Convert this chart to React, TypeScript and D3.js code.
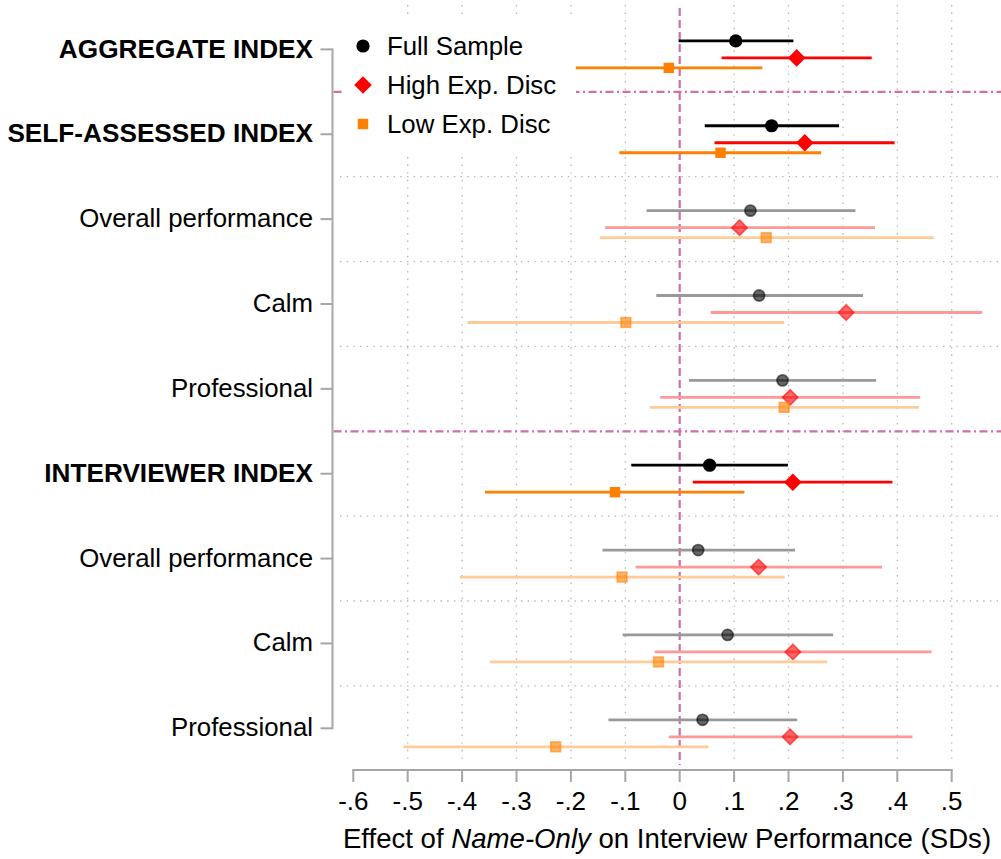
import React from "react";
import * as d3 from "d3";

// Row labels, top to bottom; index rows are bold and drawn with solid markers
const rowLabels = [
  "AGGREGATE INDEX",
  "SELF-ASSESSED INDEX",
  "Overall performance",
  "Calm",
  "Professional",
  "INTERVIEWER INDEX",
  "Overall performance",
  "Calm",
  "Professional",
];
const isIndexRow = [true, true, false, false, false, true, false, false, false];

// Full sample estimates and 95% CIs
const fullEst = [0.103, 0.169, 0.130, 0.146, 0.189, 0.055, 0.034, 0.088, 0.042];
const fullLo = [-0.002, 0.046, -0.061, -0.043, 0.017, -0.089, -0.142, -0.105, -0.131];
const fullHi = [0.209, 0.293, 0.323, 0.337, 0.361, 0.199, 0.212, 0.282, 0.216];

// High expected discrimination subsample
const highEst = [0.215, 0.230, 0.110, 0.306, 0.203, 0.208, 0.145, 0.208, 0.203];
const highLo = [0.077, 0.064, -0.137, 0.057, -0.036, 0.024, -0.081, -0.046, -0.020];
const highHi = [0.353, 0.395, 0.359, 0.556, 0.442, 0.391, 0.372, 0.463, 0.428];

// Low expected discrimination subsample
const lowEst = [-0.020, 0.075, 0.159, -0.099, 0.192, -0.119, -0.106, -0.039, -0.228];
const lowLo = [-0.191, -0.111, -0.147, -0.390, -0.055, -0.358, -0.404, -0.349, -0.508];
const lowHi = [0.152, 0.260, 0.467, 0.192, 0.440, 0.119, 0.193, 0.271, 0.053];

const xTicks = [-0.6, -0.5, -0.4, -0.3, -0.2, -0.1, 0, 0.1, 0.2, 0.3, 0.4, 0.5];
const xGrid = [-0.5, -0.4, -0.3, -0.2, -0.1, 0.1, 0.2, 0.3, 0.4, 0.5];
const legendLabels = ["Full Sample", "High Exp. Disc", "Low Exp. Disc"];

const W = 1001;
const H = 859;
const FONT = "'Liberation Sans', Arial, sans-serif";
const PINK = "#CF6FA4";
const GRID = "#B5B5B5";
const AXIS = "#A6A6A6";

// Stata-style tick labels: "-.6", ".1", "0"
const fmtTick = (v: number) => {
  if (Math.abs(v) < 1e-9) return "0";
  const s = Math.abs(v).toFixed(1).replace(/^0/, "");
  return (v < 0 ? "-" : "") + s;
};

type Series = {
  est: number[];
  lo: number[];
  hi: number[];
  color: string;
  fadedLine: string;
  shape: "circle" | "diamond" | "square";
  offset: number;
};

const series: Series[] = [
  { est: fullEst, lo: fullLo, hi: fullHi, color: "#000000", fadedLine: "#999999", shape: "circle", offset: -8.5 },
  { est: highEst, lo: highLo, hi: highHi, color: "#FF0000", fadedLine: "#FF9999", shape: "diamond", offset: 8.5 },
  { est: lowEst, lo: lowLo, hi: lowHi, color: "#FF7F00", fadedLine: "#FFCC99", shape: "square", offset: 18.5 },
];

function Marker({ shape, cx, cy, color, faded }: { shape: string; cx: number; cy: number; color: string; faded: boolean }) {
  const op = faded ? 0.6 : 1;
  const common = {
    fill: color,
    fillOpacity: op,
    stroke: color,
    strokeOpacity: faded ? 0.55 : 0,
    strokeWidth: faded ? 1.6 : 0,
  };
  if (shape === "circle") {
    const r = faded ? 5.6 : 6.6;
    return <circle cx={cx} cy={cy} r={r} {...common} />;
  }
  if (shape === "diamond") {
    const d = faded ? 7.8 : 8.8;
    return <path d={`M${cx},${cy - d}L${cx + d},${cy}L${cx},${cy + d}L${cx - d},${cy}Z`} {...common} />;
  }
  const s = faded ? 9.8 : 10.4;
  return <rect x={cx - s / 2} y={cy - s / 2} width={s} height={s} {...common} />;
}

export default function App() {
  const x = d3.scaleLinear().domain([-0.6, 0.5]).range([353.3, 951.7]);
  const y = d3.scaleLinear().domain([0, rowLabels.length - 1]).range([49.4, 728.3]);
  const step = y(1) - y(0);

  const plotTop = 5;
  const plotBottom = 763;
  const axisY = 770;
  const yAxisX = 332.5;

  // separators between rows; pink dash-dot between sections
  const separators = d3.range(rowLabels.length - 1).map((i) => ({
    yPos: y(i) + step / 2,
    section: i === 0 || i === 4,
  }));

  const legendX = 363;
  const legendY = [46, 85, 124];

  return (
    <svg
      width={W}
      height={H}
      style={{ position: "absolute", left: 0, top: 0, background: "#fff", fontFamily: FONT }}
    >
      <rect x={0} y={0} width={W} height={H} fill="#fff" />

      {/* vertical dotted grid */}
      {xGrid.map((t) => (
        <line
          key={`vg${t}`}
          x1={x(t)}
          x2={x(t)}
          y1={plotTop}
          y2={plotBottom}
          stroke={GRID}
          strokeWidth={1.3}
          strokeDasharray="1.4 6.2"
        />
      ))}

      {/* horizontal separators */}
      {separators.map((s, i) =>
        s.section ? (
          <line
            key={`hs${i}`}
            x1={yAxisX + 1}
            x2={W}
            y1={s.yPos}
            y2={s.yPos}
            stroke={PINK}
            strokeWidth={2.2}
            strokeDasharray="8 3.5 2 3.5"
          />
        ) : (
          <line
            key={`hs${i}`}
            x1={340}
            x2={W}
            y1={s.yPos}
            y2={s.yPos}
            stroke={GRID}
            strokeWidth={1.3}
            strokeDasharray="1.4 5.3"
          />
        )
      )}

      {/* reference line at zero */}
      <line
        x1={x(0)}
        x2={x(0)}
        y1={plotTop + 3}
        y2={plotBottom + 2}
        stroke={PINK}
        strokeWidth={2.2}
        strokeDasharray="8 4"
      />

      {/* legend box */}
      <rect x={342} y={18} width={234} height={134} fill="#fff" />
      {legendLabels.map((lab, i) => (
        <g key={lab}>
          <Marker shape={series[i].shape} cx={legendX} cy={legendY[i]} color={series[i].color} faded={false} />
          <text x={387} y={legendY[i]} dy="0.35em" fontSize={25.8} fill="#000">
            {lab}
          </text>
        </g>
      ))}

      {/* confidence intervals and point estimates */}
      {rowLabels.map((_, r) =>
        series.map((s, k) => {
          const yy = y(r) + s.offset;
          const faded = !isIndexRow[r];
          return (
            <g key={`m${r}-${k}`}>
              <line
                x1={x(s.lo[r])}
                x2={x(s.hi[r])}
                y1={yy}
                y2={yy}
                stroke={faded ? s.fadedLine : s.color}
                strokeWidth={2.8}
              />
              <Marker shape={s.shape} cx={x(s.est[r])} cy={yy} color={s.color} faded={faded} />
            </g>
          );
        })
      )}

      {/* y axis */}
      <line x1={yAxisX} x2={yAxisX} y1={y(0) - 1} y2={y(rowLabels.length - 1) + 1} stroke={AXIS} strokeWidth={2} />
      {rowLabels.map((lab, i) => (
        <g key={`yl${i}`}>
          <line x1={yAxisX - 12} x2={yAxisX} y1={y(i)} y2={y(i)} stroke={AXIS} strokeWidth={2} />
          <text
            x={313}
            y={y(i) - 1}
            dy="0.35em"
            textAnchor="end"
            fontSize={isIndexRow[i] ? 26.2 : 25.8}
            fontWeight={isIndexRow[i] ? "bold" : "normal"}
            fill="#000"
          >
            {lab}
          </text>
        </g>
      ))}

      {/* x axis */}
      <line x1={x(-0.6) - 1} x2={x(0.5) + 1} y1={axisY} y2={axisY} stroke={AXIS} strokeWidth={2} />
      {xTicks.map((t) => (
        <g key={`xt${t}`}>
          <line x1={x(t)} x2={x(t)} y1={axisY} y2={axisY + 12} stroke={AXIS} strokeWidth={2} />
          <text x={x(t)} y={801} dy="0.35em" textAnchor="middle" fontSize={26} fill="#000">
            {fmtTick(t)}
          </text>
        </g>
      ))}
      <text x={667} y={838} dy="0.35em" textAnchor="middle" fontSize={27.6} fill="#000">
        Effect of <tspan fontStyle="italic">Name-Only</tspan> on Interview Performance (SDs)
      </text>
    </svg>
  );
}
